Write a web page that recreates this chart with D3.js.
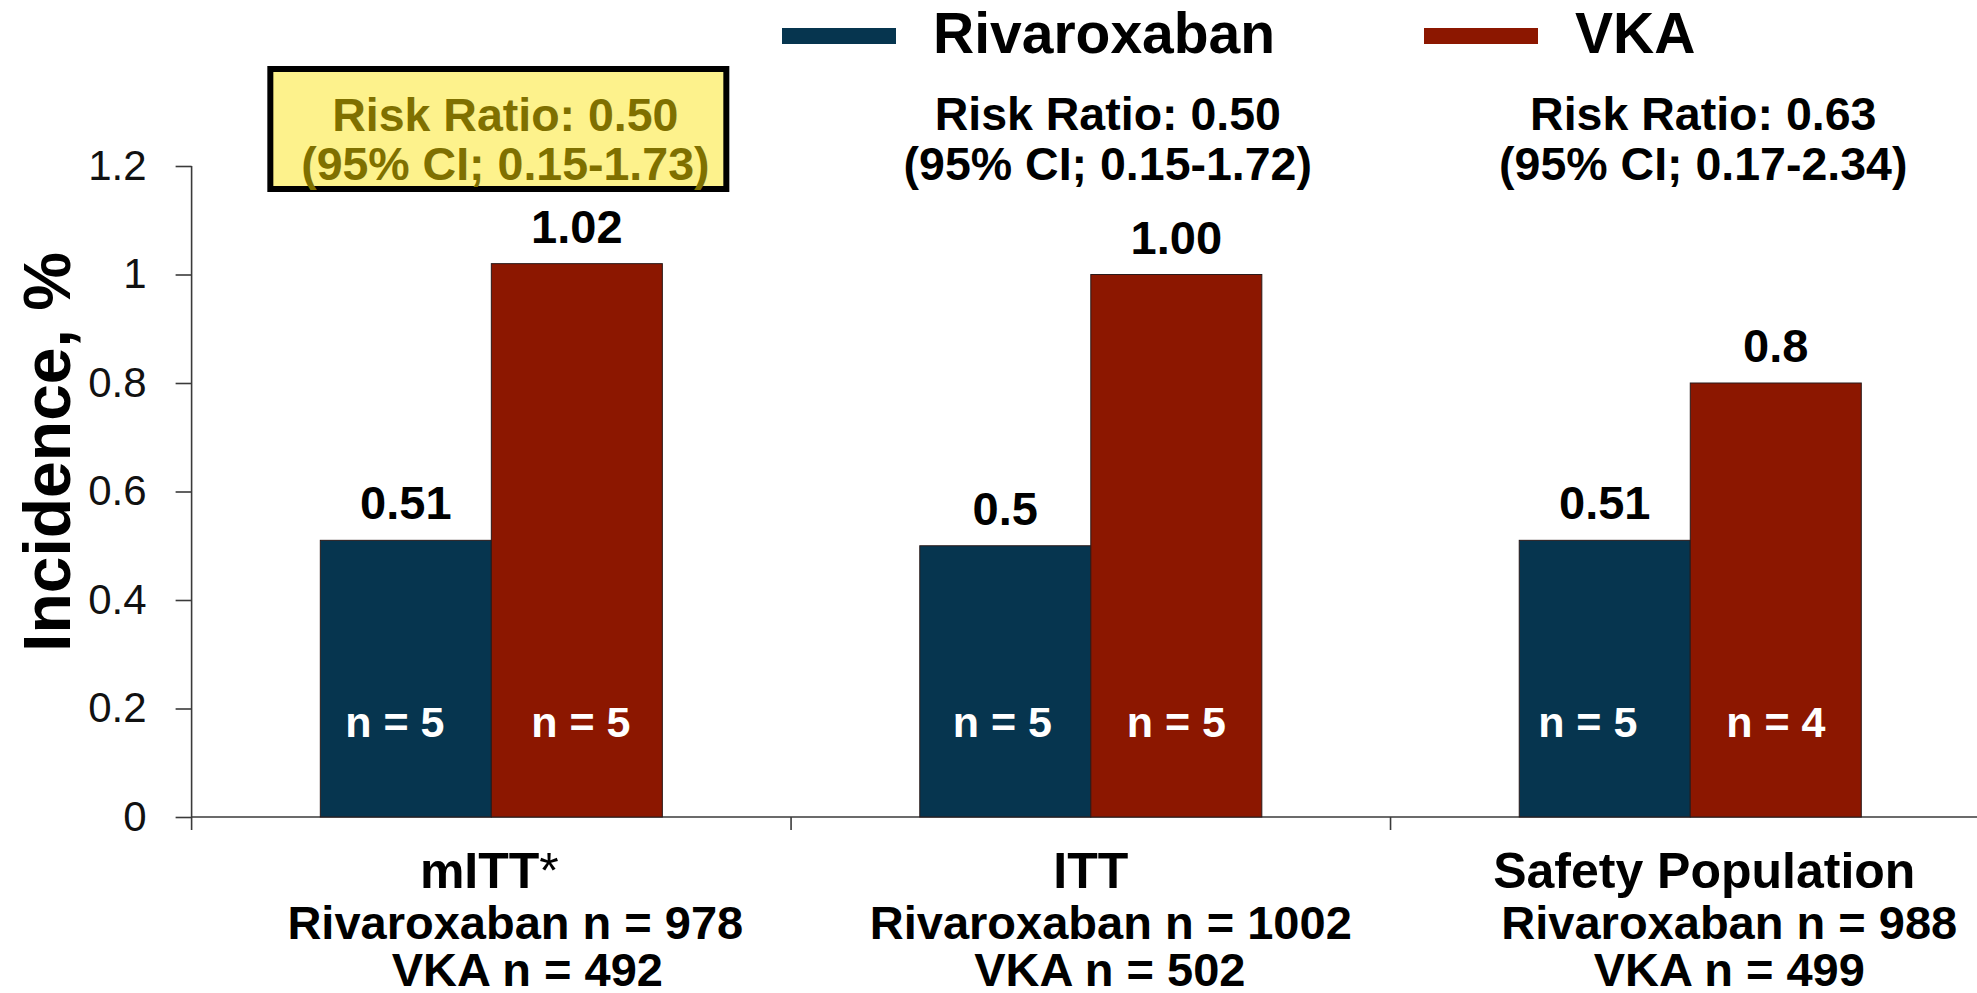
<!DOCTYPE html>
<html>
<head>
<meta charset="utf-8">
<script src="https://cdn.jsdelivr.net/npm/d3@7"></script>
<style>
  html, body { margin: 0; padding: 0; background: #ffffff; }
  svg { display: block; font-family: "Liberation Sans", Arial, Helvetica, sans-serif; }
</style>
</head>
<body>
<svg id="chart" width="1977" height="993"></svg>
<script>
// Analysis populations on the x axis
const categories = ["mITT", "ITT", "Safety Population"];
const categorySuffix = ["*", "", ""];
const rivaroxabanN = [978, 1002, 988];
const vkaN = [492, 502, 499];

// Treatment arms
const series = ["Rivaroxaban", "VKA"];

// Incidence (%) per population
const rivaroxabanValues = [0.51, 0.5, 0.51];
const vkaValues = [1.02, 1.00, 0.8];
const rivaroxabanLabels = ["0.51", "0.5", "0.51"];
const vkaLabels = ["1.02", "1.00", "0.8"];

// Event counts shown inside the bars
const rivaroxabanEvents = [5, 5, 5];
const vkaEvents = [5, 5, 4];

// Risk ratio with confidence interval per population
const riskRatios = ["0.50", "0.50", "0.63"];
const ciRanges = ["0.15-1.73", "0.15-1.72", "0.17-2.34"];

// Y axis ticks
const yTicks = [0, 0.2, 0.4, 0.6, 0.8, 1.0, 1.2];
const yTickLabels = ["0", "0.2", "0.4", "0.6", "0.8", "1", "1.2"];

// ---- layout & style ----
const colors = { Rivaroxaban: "#06354f", VKA: "#8c1700" };
const plot = { left: 191.6, right: 1990, top: 166, bottom: 817 };
const barFrac = 0.2853;              // width of one bar relative to the band
const catLineOffsets = [[-2, 24, 36], [0, 20, 19], [14, 39, 39]];
const riskOffsets = [14, 17, 13];
const countOffsets = { Rivaroxaban: [-11, -3, -17], VKA: [4, 0, 0] };

const svg = d3.select("#chart");

const x = d3.scaleBand().domain(categories).range([plot.left, plot.right]).padding(0);
const bw = x.bandwidth();
const xs = d3.scaleBand().domain(series)
  .range([bw / 2 - bw * barFrac, bw / 2 + bw * barFrac]).padding(0);
const y = d3.scaleLinear().domain([0, 1.2]).range([plot.bottom, plot.top]);

const rows = categories.map((c, i) => ({
  cat: c,
  i,
  vals: [
    { s: "Rivaroxaban", v: rivaroxabanValues[i], label: rivaroxabanLabels[i], n: rivaroxabanEvents[i], i },
    { s: "VKA", v: vkaValues[i], label: vkaLabels[i], n: vkaEvents[i], i }
  ]
}));

// ---- Y axis ----
const yAxis = d3.axisLeft(y)
  .tickValues(yTicks)
  .tickFormat((d, i) => yTickLabels[i])
  .tickSize(16)
  .tickPadding(29);
const gy = svg.append("g").attr("transform", `translate(${plot.left},0)`).call(yAxis);
gy.select(".domain").remove();
gy.selectAll(".tick line").attr("stroke", "#3a3a3a").attr("stroke-width", 1.6);
gy.selectAll(".tick text")
  .attr("font-size", 42).attr("fill", "#111")
  .attr("font-family", "'Liberation Sans', Arial, sans-serif");
svg.append("line")
  .attr("x1", plot.left).attr("x2", plot.left)
  .attr("y1", y(1.2)).attr("y2", plot.bottom + 13)
  .attr("stroke", "#3a3a3a").attr("stroke-width", 1.6);

// ---- X axis baseline with band separators ----
svg.append("line")
  .attr("x1", plot.left).attr("x2", plot.right)
  .attr("y1", plot.bottom).attr("y2", plot.bottom)
  .attr("stroke", "#3a3a3a").attr("stroke-width", 1.6);
svg.selectAll("line.sep").data(categories.slice(1)).enter().append("line")
  .attr("class", "sep")
  .attr("x1", d => x(d)).attr("x2", d => x(d))
  .attr("y1", plot.bottom).attr("y2", plot.bottom + 13)
  .attr("stroke", "#3a3a3a").attr("stroke-width", 1.6);

// ---- Bars ----
const groups = svg.selectAll("g.grp").data(rows).enter().append("g")
  .attr("class", "grp")
  .attr("transform", d => `translate(${x(d.cat)},0)`);

groups.selectAll("rect").data(d => d.vals).enter().append("rect")
  .attr("x", d => xs(d.s))
  .attr("y", d => y(d.v))
  .attr("width", xs.bandwidth())
  .attr("height", d => y(0) - y(d.v))
  .attr("fill", d => colors[d.s])
  .attr("stroke", "#2a1a1a").attr("stroke-width", 1);

// value labels above bars
groups.selectAll("text.val").data(d => d.vals).enter().append("text")
  .attr("class", "val")
  .attr("x", d => xs(d.s) + xs.bandwidth() / 2)
  .attr("y", d => y(d.v) - 21)
  .attr("text-anchor", "middle")
  .attr("font-size", 47).attr("font-weight", "bold").attr("fill", "#000")
  .text(d => d.label);

// event counts inside bars
groups.selectAll("text.n").data(d => d.vals).enter().append("text")
  .attr("class", "n")
  .attr("x", d => xs(d.s) + xs.bandwidth() / 2 + countOffsets[d.s][d.i])
  .attr("y", 737)
  .attr("text-anchor", "middle")
  .attr("font-size", 43).attr("font-weight", "bold").attr("fill", "#ffffff")
  .text(d => `n = ${d.n}`);

// ---- Category labels ----
rows.forEach((r, i) => {
  const cx = x(r.cat) + bw / 2;
  const off = catLineOffsets[i];
  const t1 = svg.append("text")
    .attr("x", cx + off[0]).attr("y", 888)
    .attr("text-anchor", "middle")
    .attr("font-size", 50).attr("font-weight", "bold").attr("fill", "#000");
  t1.append("tspan").text(r.cat);
  if (categorySuffix[i]) t1.append("tspan").attr("font-weight", "normal").text(categorySuffix[i]);
  svg.append("text")
    .attr("x", cx + off[1]).attr("y", 939)
    .attr("text-anchor", "middle")
    .attr("font-size", 47).attr("font-weight", "bold").attr("fill", "#000")
    .text(`Rivaroxaban n = ${rivaroxabanN[i]}`);
  svg.append("text")
    .attr("x", cx + off[2]).attr("y", 986)
    .attr("text-anchor", "middle")
    .attr("font-size", 47).attr("font-weight", "bold").attr("fill", "#000")
    .text(`VKA n = ${vkaN[i]}`);
});

// ---- Risk ratio annotations (primary analysis highlighted) ----
rows.forEach((r, i) => {
  const cx = x(r.cat) + bw / 2;
  const highlighted = i === 0;
  if (highlighted) {
    svg.append("rect")
      .attr("x", cx - 221).attr("y", 69)
      .attr("width", 456).attr("height", 120)
      .attr("fill", "#fdf28c")
      .attr("stroke", "#000").attr("stroke-width", 6);
  }
  const fill = highlighted ? "#7f7000" : "#000";
  const bl = highlighted ? [131, 180] : [130, 180];
  svg.append("text")
    .attr("x", cx + riskOffsets[i]).attr("y", bl[0])
    .attr("text-anchor", "middle")
    .attr("font-size", 46.5).attr("font-weight", "bold").attr("fill", fill)
    .text(`Risk Ratio: ${riskRatios[i]}`);
  svg.append("text")
    .attr("x", cx + riskOffsets[i]).attr("y", bl[1])
    .attr("text-anchor", "middle")
    .attr("font-size", 46.5).attr("font-weight", "bold").attr("fill", fill)
    .text(`(95% CI; ${ciRanges[i]})`);
});

// ---- Legend ----
const legend = svg.append("g").attr("transform", "translate(782,0)");
const li = legend.selectAll("g").data(series).enter().append("g")
  .attr("transform", (d, i) => `translate(${i * 642},0)`);
li.append("rect")
  .attr("x", 0).attr("y", 28).attr("width", 114).attr("height", 16)
  .attr("fill", d => colors[d]);
li.append("text")
  .attr("x", 151).attr("y", 53)
  .attr("font-size", 57).attr("font-weight", "bold").attr("fill", "#000")
  .text(d => d);

// ---- Y axis title ----
svg.append("text")
  .attr("transform", "translate(70,452) rotate(-90)")
  .attr("text-anchor", "middle")
  .attr("font-size", 66).attr("font-weight", "bold").attr("fill", "#000")
  .text("Incidence, %");
</script>
</body>
</html>
